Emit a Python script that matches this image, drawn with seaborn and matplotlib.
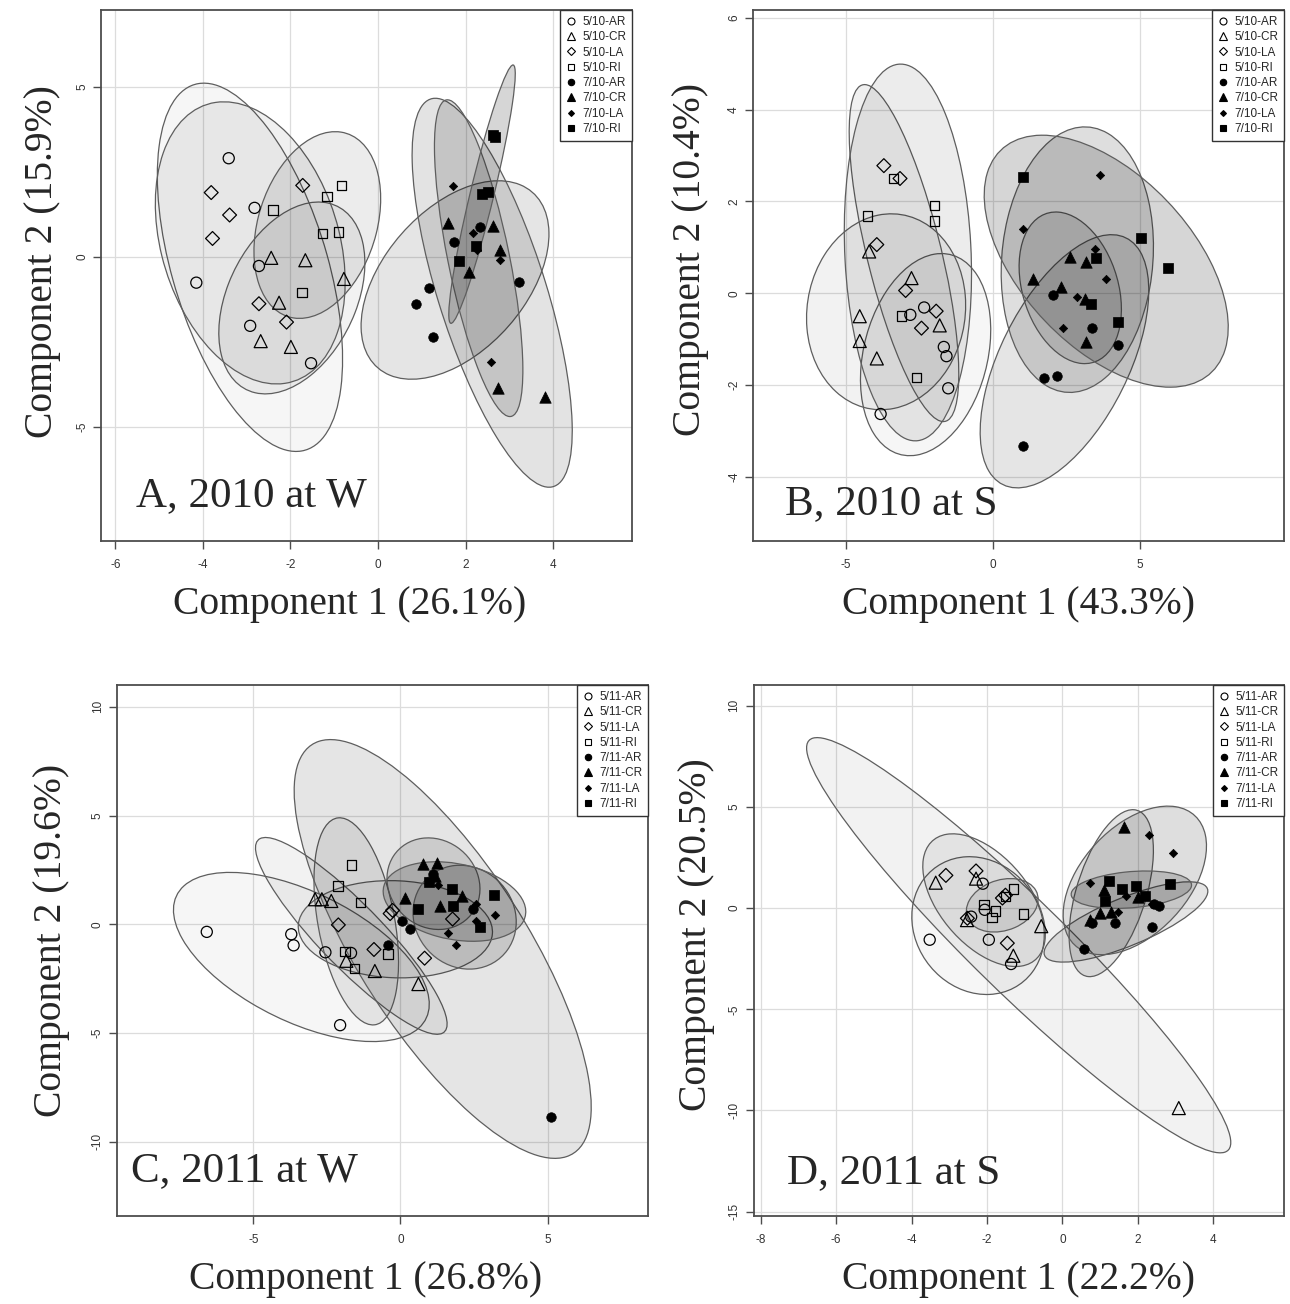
import numpy as np
import pandas as pd
import matplotlib
matplotlib.use("Agg")
import matplotlib.pyplot as plt
import seaborn as sns
from matplotlib.patches import Ellipse
from matplotlib.lines import Line2D
from matplotlib.ticker import MultipleLocator

sns.set_style("white")
plt.rcParams["font.family"] = ["Liberation Sans", "DejaVu Sans"]
plt.rcParams["axes.unicode_minus"] = False

sites = ["AR", "CR", "LA", "RI"]

# group order: 5-AR, 5-CR, 5-LA, 5-RI, 7-AR, 7-CR, 7-LA, 7-RI
# A, 2010 at W
a_x = [[-3.41, -2.82, -2.72, -4.15, -2.92, -1.53],
       [-2.44, -1.66, -0.78, -2.26, -2.68, -1.99],
       [-3.81, -3.39, -3.78, -1.72, -2.72, -2.09],
       [-2.40, -1.17, -0.84, -1.27, -0.90, -1.74],
       [2.33, 1.73, 3.21, 1.16, 0.87, 1.25],
       [1.60, 2.62, 2.79, 2.08, 2.74, 3.81],
       [1.71, 2.17, 2.25, 2.79, 2.57],
       [2.63, 2.68, 2.37, 2.50, 2.23, 1.84]]
a_y = [[2.91, 1.45, -0.26, -0.75, -2.02, -3.12],
       [-0.02, -0.09, -0.64, -1.34, -2.47, -2.64],
       [1.90, 1.24, 0.55, 2.11, -1.37, -1.91],
       [1.39, 1.79, 2.10, 0.69, 0.74, -1.04],
       [0.88, 0.46, -0.72, -0.90, -1.39, -2.36],
       [1.00, 0.92, 0.21, -0.44, -3.85, -4.12],
       [2.09, 0.72, 0.22, -0.09, -3.09],
       [3.58, 3.54, 1.86, 1.93, 0.33, -0.12]]

# B, 2010 at S
b_x = [[-2.34, -2.81, -1.67, -1.58, -1.52, -3.82],
       [-4.21, -2.77, -4.53, -4.53, -3.95, -1.81],
       [-3.71, -3.16, -3.95, -2.97, -1.93, -2.43],
       [-3.39, -1.99, -1.99, -4.27, -3.11, -2.60],
       [2.04, 3.37, 4.25, 1.73, 2.18, 1.03],
       [2.63, 3.18, 1.36, 2.33, 3.13, 3.15],
       [3.63, 1.01, 3.46, 3.86, 2.87, 2.39],
       [1.02, 5.05, 5.94, 3.49, 3.35, 4.27]]
b_y = [[-0.31, -0.47, -1.17, -1.37, -2.07, -2.63],
       [0.91, 0.33, -0.50, -1.04, -1.42, -0.70],
       [2.78, 2.50, 1.06, 0.06, -0.39, -0.76],
       [2.50, 1.91, 1.57, 1.68, -0.50, -1.83],
       [-0.04, -0.76, -1.12, -1.84, -1.81, -3.32],
       [0.78, 0.69, 0.31, 0.13, -0.13, -1.07],
       [2.58, 1.39, 0.96, 0.31, -0.09, -0.76],
       [2.53, 1.21, 0.56, 0.76, -0.24, -0.63]]

# C, 2011 at W
c_x = [[-6.58, -3.71, -3.63, -2.55, -1.68, -2.05],
       [-2.90, -2.67, -2.35, -1.84, -0.87, 0.61],
       [-2.11, -0.90, -0.35, -0.27, 0.82, 1.77],
       [-1.66, -2.12, -1.36, -1.88, -1.56, -0.43],
       [1.10, 0.06, 0.31, -0.43, 2.47, 5.10],
       [0.75, 1.25, 1.16, 0.15, 1.33, 2.09],
       [1.27, 2.55, 3.21, 1.62, 1.88, 2.55],
       [0.98, 1.76, 0.58, 1.80, 3.19, 2.70]]
c_y = [[-0.35, -0.46, -0.97, -1.29, -1.32, -4.64],
       [1.15, 1.15, 1.07, -1.68, -2.15, -2.75],
       [-0.03, -1.16, 0.49, 0.64, -1.56, 0.24],
       [2.72, 1.75, 0.99, -1.26, -2.03, -1.37],
       [2.33, 0.17, -0.22, -0.97, 0.71, -8.84],
       [2.77, 2.83, 2.24, 1.21, 0.83, 1.31],
       [1.81, 0.91, 0.42, -0.38, -0.97, 0.16],
       [1.93, 1.62, 0.68, 0.83, 1.35, -0.14]]

# D, 2011 at S
d_x = [[-2.11, -2.06, -2.42, -1.95, -1.36, -3.52],
       [-3.36, -2.29, -2.53, -0.56, -1.30, 3.09],
       [-3.09, -2.29, -1.59, -1.51, -1.46, -2.52],
       [-2.08, -1.78, -1.87, -1.30, -1.51, -1.03],
       [0.57, 0.78, 1.41, 2.39, 2.56, 2.42],
       [1.64, 1.10, 1.01, 0.74, 1.30, 2.00],
       [2.31, 2.93, 0.74, 1.70, 1.48, 2.38],
       [1.23, 1.59, 1.96, 2.87, 1.14, 2.20]]
d_y = [[1.21, -0.08, -0.42, -1.56, -2.76, -1.56],
       [1.26, 1.46, -0.59, -0.89, -2.35, -9.88],
       [1.62, 1.84, 0.50, 0.64, -1.73, -0.50],
       [0.17, -0.13, -0.45, 0.95, 0.59, -0.28],
       [-2.01, -0.75, -0.75, -0.92, 0.12, 0.22],
       [3.99, 0.92, -0.25, -0.59, -0.17, 0.55],
       [3.63, 2.71, 1.26, 0.59, -0.18, 0.22],
       [1.34, 0.95, 1.09, 1.17, 0.34, 0.59]]

pct_a = ["26.1%", "15.9%"]
pct_b = ["43.3%", "10.4%"]
pct_c = ["26.8%", "19.6%"]
pct_d = ["22.2%", "20.5%"]

# marker, face, scatter size, legend size
styles = [("o", "none", 64, 5.0), ("^", "none", 88, 5.6), ("D", "none", 50, 4.2),
          ("s", "none", 46, 4.3), ("o", "black", 47, 4.6), ("^", "black", 68, 5.4),
          ("D", "black", 18, 3.0), ("s", "black", 48, 4.4)]
fill_alpha = [0.035, 0.05, 0.06, 0.075, 0.10, 0.11, 0.13, 0.16]
r95 = np.sqrt(-2 * np.log(0.05))


def add_ellipse(ax, x, y, alpha):
    x = np.asarray(x)
    y = np.asarray(y)
    vals, vecs = np.linalg.eigh(np.cov(x, y))
    order = vals.argsort()[::-1]
    vals, vecs = vals[order], vecs[:, order]
    ang = np.degrees(np.arctan2(vecs[1, 0], vecs[0, 0]))
    w, h = 2 * r95 * np.sqrt(vals)
    ax.add_patch(Ellipse((x.mean(), y.mean()), w, h, angle=ang,
                         facecolor=(0, 0, 0, alpha), edgecolor="#5e5e5e",
                         lw=0.9, zorder=1))


fig = plt.figure(figsize=(12.9, 13.04), dpi=100)

panels = [
    # rect, xs, ys, year, pct, title, xlim, ylim, xstep, ystep,
    # title pos, ylabel offset, xlabel shift, ylabel shift
    ([101.3, 10, 632, 540.7], a_x, a_y, "10", pct_a, "A, 2010 at W",
     (-6.32, 5.80), (-8.34, 7.27), 2, 5, (0.066, 0.066), 59, -17, 14),
    ([753.3, 10, 1284.3, 540.7], b_x, b_y, "10", pct_b, "B, 2010 at S",
     (-8.15, 9.91), (-5.39, 6.17), 5, 2, (0.060, 0.050), 63, 0, 16),
    ([117, 685, 648.3, 1215.7], c_x, c_y, "11", pct_c, "C, 2011 at W",
     (-9.63, 8.42), (-13.4, 11.0), 5, 5, (0.026, 0.066), 65, -17, 10),
    ([753.7, 685, 1284.3, 1215.7], d_x, d_y, "11", pct_d, "D, 2011 at S",
     (-8.19, 5.89), (-15.2, 11.03), 2, 5, (0.062, 0.062), 57, 0, 16),
]

W, H = 1290, 1304
for rect, xs, ys, yr, pct, title, xlim, ylim, xstep, ystep, tpos, yoff, xsh, ysh in panels:
    x0, y0, x1, y1 = rect
    ax = fig.add_axes([x0 / W, 1 - y1 / H, (x1 - x0) / W, (y1 - y0) / H])
    ax.set_axisbelow(True)
    ax.grid(True, color="#dcdcdc", lw=0.9)

    labels = [f"{m}/{yr}-{s}" for m in ("5", "7") for s in sites]
    for i in range(8):
        add_ellipse(ax, xs[i], ys[i], fill_alpha[i])
    for i in range(8):
        m, fc, sz, _ = styles[i]
        df = pd.DataFrame({"x": xs[i], "y": ys[i]})
        sns.scatterplot(data=df, x="x", y="y", marker=m, s=sz, color="black",
                        facecolor=fc, edgecolor="black",
                        linewidth=0.9 if fc == "none" else 0.5,
                        ax=ax, zorder=3, legend=False)

    ax.set_xlim(*xlim)
    ax.set_ylim(*ylim)
    ax.xaxis.set_major_locator(MultipleLocator(xstep))
    ax.yaxis.set_major_locator(MultipleLocator(ystep))
    ax.tick_params(direction="out", length=5.5, width=1, color="#4d4d4d",
                   labelsize=8.5, labelcolor="#333333", bottom=True, left=True)
    ax.tick_params(axis="x", pad=8)
    ax.tick_params(axis="y", pad=4, labelrotation=90)
    plt.setp(ax.get_yticklabels(), va="center")
    for sp in ax.spines.values():
        sp.set_color("#4d4d4d")
        sp.set_linewidth(1.3)

    ax.set_xlabel(f"Component 1 ({pct[0]})", family="Liberation Serif", fontsize=28.5)
    ax.set_ylabel(f"Component 2 ({pct[1]})", family="Liberation Serif", fontsize=28.5)
    ax.xaxis.label.set_va("center")
    ax.yaxis.label.set_va("center")
    ax.xaxis.set_label_coords(0.5 + xsh / (x1 - x0), -64 / (y1 - y0))
    ax.yaxis.set_label_coords(-yoff / (x1 - x0), 0.5 + ysh / (y1 - y0))

    ax.text(tpos[0], tpos[1], title, transform=ax.transAxes, ha="left",
            va="baseline", family="Liberation Serif", fontsize=31, zorder=4)

    handles = [Line2D([], [], ls="none", marker=st[0], markersize=st[3],
                      markerfacecolor=st[1], markeredgecolor="black",
                      markeredgewidth=0.8) for st in styles]
    leg = ax.legend(handles, labels, loc="upper right", borderaxespad=0,
                    prop={"family": "Liberation Sans", "size": 8.5},
                    frameon=True, fancybox=False, edgecolor="#333333",
                    framealpha=1, handlelength=0.9, handletextpad=0.5,
                    labelspacing=0.28, borderpad=0.5)
    leg.get_frame().set_linewidth(1.0)
    leg.set_zorder(5)

fig.savefig("out.png", dpi=100)
